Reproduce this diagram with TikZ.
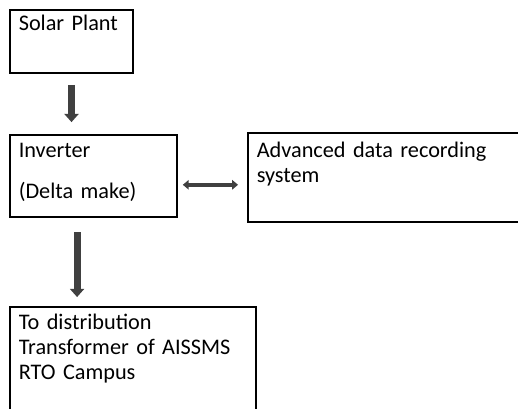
\documentclass[tikz,border=0pt]{standalone}
\usepackage{fontspec}
\setmainfont{Carlito}
\usetikzlibrary{arrows.meta, calc, positioning}

\begin{document}
\begin{tikzpicture}[
    x=0.03cm, y=-0.03cm,
    font=\fontsize{19}{21.3}\selectfont,
    box/.style={rectangle, draw=black, line width=1.6pt, anchor=north west, align=left, inner xsep=7.5pt, inner ysep=0pt, outer sep=0pt},
    bigarrow/.style={line width=6pt, draw=black!75, -{Triangle[width=12pt, length=7pt]}},
    twoway/.style={line width=3pt, draw=black!75, {Triangle[width=8pt, length=5pt]}-{Triangle[width=8pt, length=5pt]}}
]
\useasboundingbox (0,0) rectangle (518,409);

% boxes
\node (solar) [box, text width=90pt, text height=17.9pt, text depth=35.9pt] at (10,10) {Solar Plant};
\node (inv) [box, text width=127.5pt, text height=19.6pt, text depth=50.4pt] at (10,135) {Inverter\\[13.7pt](Delta make)};
\node (adr) [box, text width=225pt, text height=21.3pt, text depth=54.6pt] at (248,133) {Advanced data recording\\system};
\node (dist) [box, text width=195pt, text height=19.6pt, text depth=85.4pt] at (10,307) {To distribution\\Transformer of AISSMS\\RTO Campus};

% arrows
\draw [bigarrow, shorten <=10pt, shorten >=11pt] (solar.south) -- (solar.south |- inv.north);
\draw [bigarrow, shorten <=12.8pt, shorten >=8.5pt] ([xshift=-14pt]inv.south) -- ([xshift=-14pt]inv.south |- dist.north);
\draw [twoway, shorten <=5pt, shorten >=8.5pt] ([yshift=-7.5pt]inv.east) -- ([yshift=-7.5pt]inv.east -| adr.west);

\end{tikzpicture}
\end{document}
